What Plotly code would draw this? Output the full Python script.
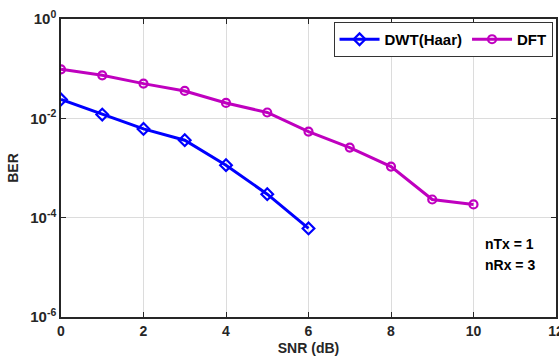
import plotly.graph_objects as go

snr = [0, 1, 2, 3, 4, 5, 6, 7, 8, 9, 10]
ber_dwt = [0.0240, 0.0119, 0.00612, 0.00363, 0.00114, 0.000297, 0.0000607]
ber_dft = [0.097, 0.0736, 0.050, 0.0356, 0.0204, 0.0131, 0.00542, 0.00258,
           0.00107, 0.000232, 0.000185]
ytick_vals = [1e-6, 1e-4, 1e-2, 1]
ytick_text = ["10<sup>-6</sup>", "10<sup>-4</sup>", "10<sup>-2</sup>", "10<sup>0</sup>"]
xtick_vals = [0, 2, 4, 6, 8, 10, 12]
notes = ["nTx = 1", "nRx = 3"]

FONT = "Liberation Sans, Arial, sans-serif"

fig = go.Figure()
fig.add_trace(go.Scatter(
    x=snr[:len(ber_dwt)], y=ber_dwt, name="DWT(Haar)", mode="lines+markers",
    line=dict(color="#0000FF", width=3),
    marker=dict(symbol="diamond-open", size=9, color="#0000FF",
                line=dict(width=2.2, color="#0000FF")),
))
fig.add_trace(go.Scatter(
    x=snr, y=ber_dft, name="DFT", mode="lines+markers",
    line=dict(color="#BF00BF", width=3),
    marker=dict(symbol="circle-open", size=8, color="#BF00BF",
                line=dict(width=2.2, color="#BF00BF")),
))

annotations = []
for i, txt in enumerate(notes):
    annotations.append(dict(
        x=0.853, y=0.245 - i * 0.071, xref="paper", yref="paper",
        xanchor="left", yanchor="middle", text=txt, showarrow=False,
        font=dict(family=FONT, size=14, color="#000000", weight="bold"),
    ))

fig.update_layout(
    width=559, height=361,
    margin=dict(l=61, r=3, t=19, b=44, autoexpand=False),
    paper_bgcolor="white", plot_bgcolor="white",
    font=dict(family=FONT, size=13, color="#262626", weight="bold"),
    showlegend=True,
    legend=dict(
        orientation="h", x=0.993, y=0.99, xanchor="right", yanchor="top",
        bgcolor="white", bordercolor="#333333", borderwidth=1,
        font=dict(family=FONT, size=15, color="#000000", weight="bold"),
        itemwidth=40, tracegroupgap=0,
    ),
    annotations=annotations,
)

fig.update_xaxes(
    range=[0, 12], tickvals=xtick_vals, ticktext=[str(v) for v in xtick_vals],
    ticklabeloverflow="allow", automargin=False,
    showgrid=True, gridcolor="#DCDCDC", gridwidth=1,
    showline=True, linecolor="#262626", linewidth=1.5, mirror="ticks",
    ticks="inside", ticklen=5, tickcolor="#262626", zeroline=False,
    tickfont=dict(family=FONT, size=14, color="#262626", weight="bold"),
    title=dict(text="SNR (dB)", standoff=6,
               font=dict(family=FONT, size=14, color="#262626", weight="bold")),
)
fig.update_yaxes(
    type="log", range=[-6, 0], tickvals=ytick_vals, ticktext=ytick_text,
    automargin=False,
    showgrid=True, gridcolor="#DCDCDC", gridwidth=1,
    showline=True, linecolor="#262626", linewidth=1.5, mirror="ticks",
    ticks="inside", ticklen=5, tickcolor="#262626", zeroline=False,
    tickfont=dict(family=FONT, size=15, color="#262626", weight="bold"),
    title=dict(text="BER", standoff=8,
               font=dict(family=FONT, size=14, color="#262626", weight="bold")),
)

fig.write_html("out.html")
